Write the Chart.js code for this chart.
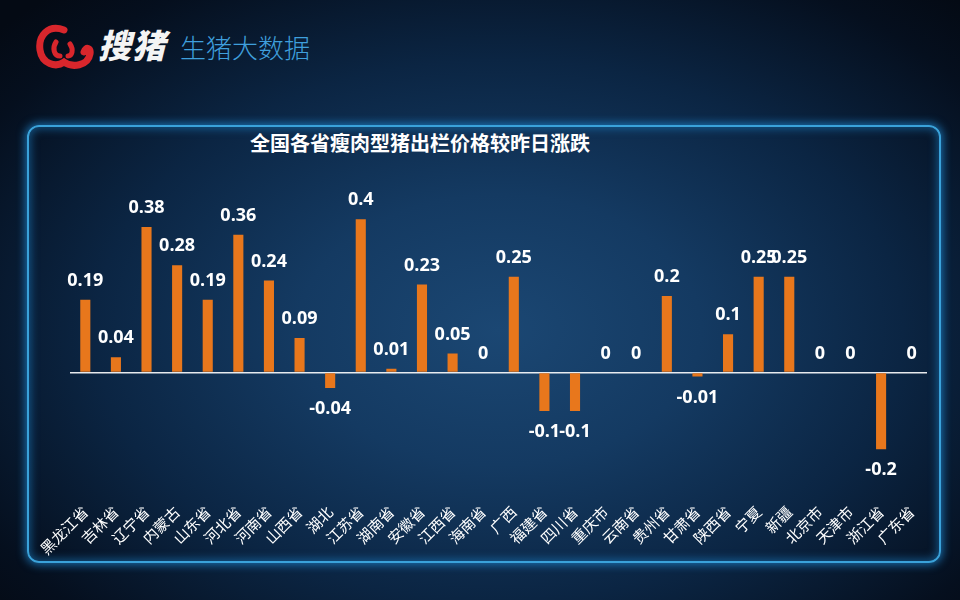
<!DOCTYPE html>
<html lang="zh">
<head>
    <meta charset="UTF-8">
    <title>全国各省瘦肉型猪出栏价格较昨日涨跌</title>
    <style>
        body {
            margin: 0;
            width: 960px;
            height: 600px;
            overflow: hidden;
            position: relative;
            background: radial-gradient(ellipse 70% 75% at 52% 55%, #1b4773 0%, #143a62 30%, #0b2543 60%, #050f1e 88%, #040a14 100%);
            font-family: "Noto Sans CJK SC", sans-serif;
        }
        .logo {
            position: absolute;
            left: 34px;
            top: 22px;
            height: 50px;
        }
        .logo-main {
            position: absolute;
            left: 98px;
            top: 24px;
            font-size: 33px;
            font-weight: 900;
            color: #f4f4f4;
            letter-spacing: 1px;
            font-style: italic;
            line-height: 40px;
        }
        .logo-sub {
            position: absolute;
            left: 180px;
            top: 31px;
            font-size: 26px;
            font-weight: 300;
            color: #3f9fdc;
            line-height: 32px;
        }
        .panel {
            position: absolute;
            left: 27px;
            top: 125px;
            width: 910px;
            height: 434px;
            border: 2px solid #3aa2da;
            border-radius: 12px;
            box-shadow: 0 0 8px 2px rgba(30, 130, 200, 0.75), inset 0 0 8px 2px rgba(30, 130, 200, 0.55);
        }
        .title {
            position: absolute;
            left: 250px;
            top: 129px;
            font-size: 20px;
            font-weight: 700;
            color: #ffffff;
            line-height: 28px;
        }
        #chart {
            position: absolute;
            left: 0;
            top: 0;
        }
    </style>
</head>
<body>
    <svg class="logo" width="60" height="50" viewBox="0 0 60 50">
        <path d="M30 8 C14 2 4 14 6 28 C8 42 22 46 30 40 C38 46 54 44 56 32 C57 26 52 24 50 30"
              fill="none" stroke="#d8262c" stroke-width="7" stroke-linecap="round"/>
        <path d="M22 20 C18 26 20 34 26 34 M36 22 C40 28 38 34 34 34"
              fill="none" stroke="#d8262c" stroke-width="5" stroke-linecap="round"/>
    </svg>
    <div class="logo-main">搜猪</div>
    <div class="logo-sub">生猪大数据</div>
    <div class="panel"></div>
    <div class="title">全国各省瘦肉型猪出栏价格较昨日涨跌</div>
    <canvas id="chart" width="960" height="600"></canvas>

    <script src="https://cdn.jsdelivr.net/npm/chart.js"></script>
    <script>
        var provinces = ['黑龙江省', '吉林省', '辽宁省', '内蒙古', '山东省', '河北省', '河南省', '山西省', '湖北', '江苏省',
            '湖南省', '安徽省', '江西省', '海南省', '广西', '福建省', '四川省', '重庆市', '云南省', '贵州省',
            '甘肃省', '陕西省', '宁夏', '新疆', '北京市', '天津市', '浙江省', '广东省'];
        var changes = [0.19, 0.04, 0.38, 0.28, 0.19, 0.36, 0.24, 0.09, -0.04, 0.4,
            0.01, 0.23, 0.05, 0, 0.25, -0.1, -0.1, 0, 0, 0.2,
            -0.01, 0.1, 0.25, 0.25, 0, 0, -0.2, 0];

        // value labels above / below each bar
        var valueLabels = {
            id: 'valueLabels',
            afterDatasetsDraw: function(chart) {
                var ctx = chart.ctx;
                var meta = chart.getDatasetMeta(0);
                ctx.save();
                ctx.font = 'bold 18px "Open Sans", sans-serif';
                ctx.fillStyle = '#ffffff';
                ctx.textAlign = 'center';
                ctx.textBaseline = 'middle';
                meta.data.forEach(function(bar, i) {
                    var v = changes[i];
                    var y = v < 0 ? bar.y + 21 : bar.y - 19;
                    ctx.fillText(String(v), bar.x, y);
                });
                ctx.restore();
            }
        };

        var ctx = document.getElementById('chart').getContext('2d');
        var chart = new Chart(ctx, {
            type: 'bar',
            data: {
                labels: provinces,
                datasets: [{
                    data: changes,
                    backgroundColor: '#e8771c',
                    barPercentage: 0.33,
                    categoryPercentage: 1
                }]
            },
            plugins: [valueLabels],
            options: {
                responsive: false,
                devicePixelRatio: 1,
                animation: false,
                layout: {
                    padding: { left: 70, right: 33, top: 181, bottom: 42 }
                },
                plugins: {
                    legend: { display: false },
                    title: { display: false },
                    tooltip: { enabled: false }
                },
                scales: {
                    x: {
                        grid: { display: false, drawTicks: false },
                        border: { display: false },
                        ticks: {
                            color: '#ffffff',
                            font: { family: '"Noto Sans CJK SC", sans-serif', size: 15 },
                            minRotation: 45,
                            maxRotation: 45,
                            autoSkip: false,
                            padding: 0
                        }
                    },
                    y: {
                        min: -0.34,
                        max: 0.5,
                        border: { display: false },
                        grid: {
                            drawTicks: false,
                            lineWidth: 1.5,
                            color: function(c) {
                                return Math.abs(c.tick.value) < 1e-9 ? 'rgba(255,255,255,0.9)' : 'rgba(0,0,0,0)';
                            }
                        },
                        ticks: { display: false, stepSize: 0.1 }
                    }
                }
            }
        });
    </script>
</body>
</html>
